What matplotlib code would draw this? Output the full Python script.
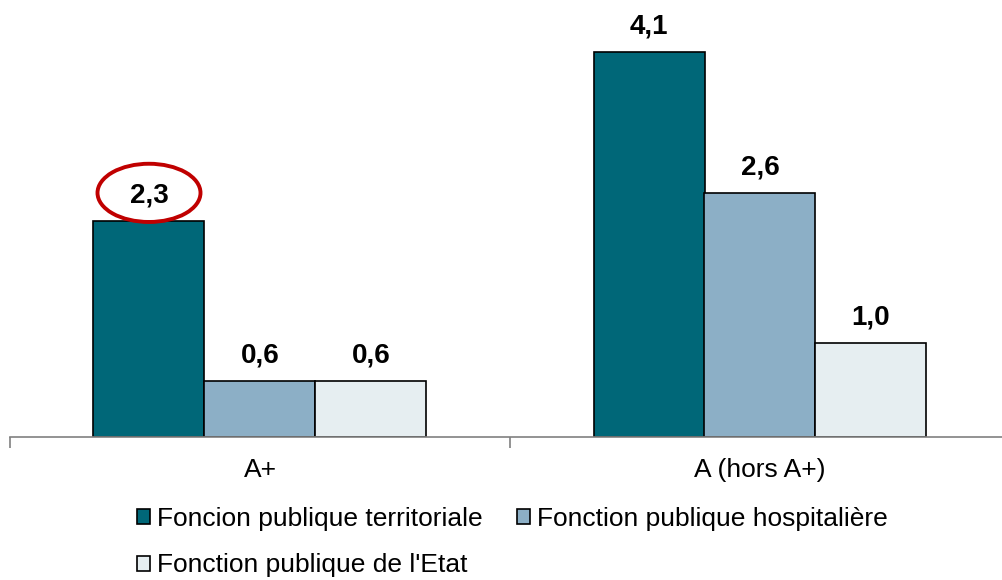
import numpy as np
import matplotlib.pyplot as plt
from matplotlib.patches import Ellipse, Patch

categories = ['A+', 'A (hors A+)']
series = ['Foncion publique territoriale', 'Fonction publique hospitalière', "Fonction publique de l'Etat"]
values = [
    [2.3, 4.1],   # territoriale
    [0.6, 2.6],   # hospitalière
    [0.6, 1.0],   # Etat
]
colors = ['#006778', '#8CAFC6', '#E6EEF1']

plt.rcParams['font.family'] = ['Liberation Sans', 'DejaVu Sans']

fig = plt.figure(figsize=(10.03, 5.8), dpi=100)
ax = fig.add_axes([10 / 1003, 143 / 580, 1000 / 1003, 437 / 580])

x = np.arange(len(categories))
w = 0.222
for i, (name, vals) in enumerate(zip(series, values)):
    pos = x + (i - 1) * w
    ax.bar(pos, vals, w, color=colors[i], edgecolor='black', linewidth=1.2, label=name)
    for px, v in zip(pos, vals):
        ax.annotate(f'{v:.1f}'.replace('.', ','), (px, v), xytext=(0, 9), textcoords='offset points',
                    ha='center', va='bottom', fontsize=20, fontweight='bold')

# red ellipse around the first label
ax.add_patch(Ellipse((x[0] - w, 2.6), 0.206, 0.62, fill=False, edgecolor='#C00000', linewidth=2.8, clip_on=False))

ax.set_xlim(-0.5, 1.5)
ax.set_ylim(0, 4.654)
ax.set_yticks([])
for s in ['top', 'right', 'left']:
    ax.spines[s].set_visible(False)
ax.spines['bottom'].set_color('#808080')
ax.spines['bottom'].set_linewidth(1.2)
ax.set_xticks([-0.5, 0.5, 1.5], minor=False)
ax.set_xticklabels(['', '', ''])
ax.tick_params(axis='x', length=8, color='#808080', width=1.2)
ax.set_xticks(x, minor=True)
ax.set_xticklabels(categories, minor=True, fontsize=19)
ax.tick_params(axis='x', which='minor', length=0, pad=15)

# legend filled column-first, so reorder to get territoriale / hospitalière on row 1
order = [0, 2, 1]
handles = [Patch(facecolor=colors[i], edgecolor='black', linewidth=1.2) for i in order]
fig.legend(handles, [series[i] for i in order], loc='upper left', bbox_to_anchor=(137 / 1003, 1 - 507 / 580),
           ncol=2, frameon=False, fontsize=19, handlelength=0.5, handleheight=0.5, handletextpad=0.25,
           columnspacing=1.3, labelspacing=0.85, borderaxespad=0, borderpad=0)

plt.savefig('out.png', dpi=100)
